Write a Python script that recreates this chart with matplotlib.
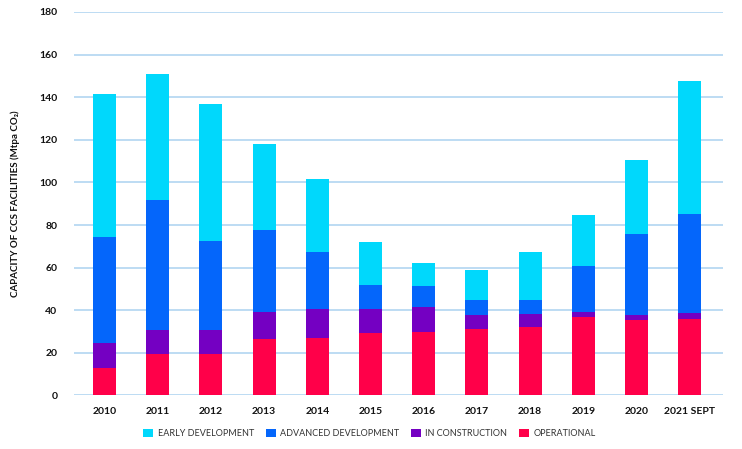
import numpy as np
import matplotlib
matplotlib.use('Agg')
import matplotlib.pyplot as plt
from matplotlib.patches import Patch

plt.rcParams['font.family'] = ['Lato', 'DejaVu Sans']

years = ['2010', '2011', '2012', '2013', '2014', '2015', '2016',
         '2017', '2018', '2019', '2020', '2021 SEPT']

operational_top = [12.7, 19.7, 19.7, 26.3, 27.2, 29.1, 30.0, 31.4, 32.3, 37.0, 35.6, 36.1]
construction_top = [24.4, 30.5, 30.5, 39.4, 40.8, 40.8, 41.3, 38.0, 38.4, 39.4, 38.0, 38.9]
advanced_top = [74.5, 91.9, 72.7, 77.8, 67.5, 52.0, 51.6, 45.0, 45.0, 60.9, 75.9, 85.3]
early_top = [141.6, 150.9, 136.9, 118.1, 101.7, 72.2, 62.3, 59.1, 67.5, 84.8, 110.6, 147.7]

operational = np.array(operational_top)
construction = np.array(construction_top) - operational
advanced = np.array(advanced_top) - np.array(construction_top)
early = np.array(early_top) - np.array(advanced_top)

c_early = '#00d8fc'
c_adv = '#0466fb'
c_con = '#7400c2'
c_op = '#ff0049'

fig = plt.figure(figsize=(7.42, 4.49), dpi=100)
ax = fig.add_axes([0.0997, 0.1192, 0.8747, 0.8541])

x = np.arange(len(years))
w = 0.43
ax.bar(x, operational, w, color=c_op, zorder=3)
ax.bar(x, construction, w, bottom=operational, color=c_con, zorder=3)
ax.bar(x, advanced, w, bottom=operational + construction, color=c_adv, zorder=3)
ax.bar(x, early, w, bottom=operational + construction + advanced, color=c_early, zorder=3)

ax.set_xlim(-0.573, 11.626)
ax.set_ylim(0, 180)
ax.set_yticks(np.arange(0, 181, 20))
ax.yaxis.grid(True, color='#b2d5f1', linewidth=1.2, zorder=0)
ax.set_axisbelow(True)
for s in ax.spines.values():
    s.set_visible(False)
ax.tick_params(length=0)
ax.tick_params(axis='y', pad=12)
ax.tick_params(axis='x', pad=8)
ax.set_xticks(x)
ax.set_xticklabels(years, fontsize=7.5, fontweight='bold', color='#111111')
for lab in ax.get_yticklabels():
    lab.set_fontsize(7.5)
    lab.set_fontweight('bold')
    lab.set_color('#111111')

ax.set_ylabel('CAPACITY OF CCS FACILITIES (Mtpa CO\u2082)', fontsize=7,
              fontweight='bold', color='#111111', labelpad=14)

handles = [Patch(facecolor=c_early, label='EARLY DEVELOPMENT'),
           Patch(facecolor=c_adv, label='ADVANCED DEVELOPMENT'),
           Patch(facecolor=c_con, label='IN CONSTRUCTION'),
           Patch(facecolor=c_op, label='OPERATIONAL')]
leg = fig.legend(handles=handles, loc='center', bbox_to_anchor=(0.498, 0.035),
                 ncol=4, frameon=False, fontsize=6.5, handlelength=1.1,
                 handleheight=1.1, handletextpad=0.5, columnspacing=1.3)
for t in leg.get_texts():
    t.set_color('#333333')

fig.savefig('out.png', dpi=100)
